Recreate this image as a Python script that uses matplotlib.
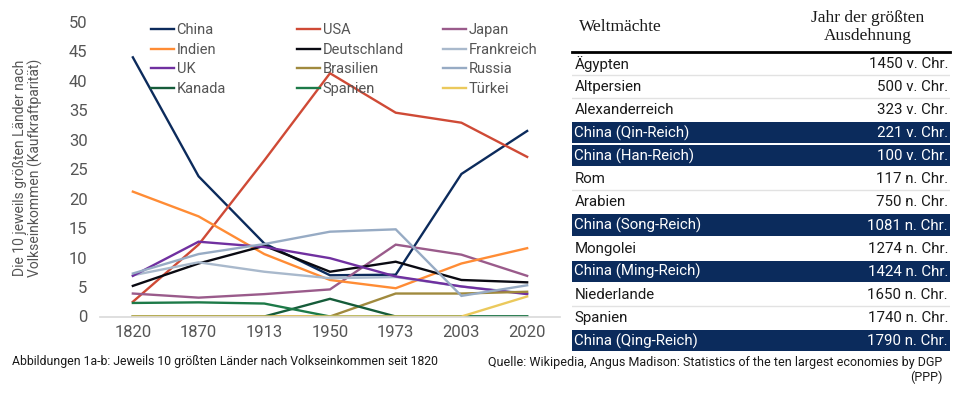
import numpy as np
import matplotlib
matplotlib.use("Agg")
import matplotlib.pyplot as plt
from matplotlib.patches import Rectangle

plt.rcParams['font.family'] = ['Roboto', 'DejaVu Sans']

# Anteile der 10 größten Volkswirtschaften (Kaufkraftparität), in %
years = ['1820', '1870', '1913', '1950', '1973', '2003', '2020']
china = [44.0, 23.8, 12.4, 7.0, 7.1, 24.2, 31.5]
usa = [2.5, 12.2, 26.5, 41.3, 34.6, 32.9, 27.1]
japan = [3.9, 3.2, 3.8, 4.6, 12.2, 10.5, 6.9]
indien = [21.2, 17.0, 10.6, 6.2, 4.8, 9.0, 11.6]
deutschland = [5.2, 9.0, 12.0, 7.6, 9.3, 6.2, 5.8]
frankreich = [7.0, 9.2, 7.6, 6.5, 6.7, 5.1, 3.9]
uk = [6.9, 12.7, 11.8, 9.9, 6.8, 5.1, 3.8]
brasilien = [0, 0, 0, 0, 3.9, 3.9, 4.2]
russia = [7.3, 10.6, 12.3, 14.4, 14.8, 3.5, 5.3]
kanada = [0, 0, 0, 3.0, 0, 0, 0]
spanien = [2.3, 2.4, 2.2, 0, 0, 0, 0]
tuerkei = [0, 0, 0, 0, 0, 0, 3.4]

# Tabelle Weltmächte
maechte = ['Ägypten', 'Altpersien', 'Alexanderreich', 'China (Qin-Reich)',
           'China (Han-Reich)', 'Rom', 'Arabien', 'China (Song-Reich)',
           'Mongolei', 'China (Ming-Reich)', 'Niederlande', 'Spanien',
           'China (Qing-Reich)']
jahre = ['1450 v. Chr.', '500 v. Chr.', '323 v. Chr.', '221 v. Chr.',
         '100 v. Chr.', '117 n. Chr.', '750 n. Chr.', '1081 n. Chr.',
         '1274 n. Chr.', '1424 n. Chr.', '1650 n. Chr.', '1740 n. Chr.',
         '1790 n. Chr.']

serien = [
    ('China', china, '#0c2b5c'),
    ('USA', usa, '#cf4a36'),
    ('Japan', japan, '#9a5b8b'),
    ('Indien', indien, '#ff8c35'),
    ('Deutschland', deutschland, '#0a0a12'),
    ('Frankreich', frankreich, '#a9b9cc'),
    ('UK', uk, '#7030a0'),
    ('Brasilien', brasilien, '#a08a3e'),
    ('Russia', russia, '#97abc4'),
    ('Kanada', kanada, '#165c3a'),
    ('Spanien', spanien, '#1d7a48'),
    ('Türkei', tuerkei, '#ebc95c'),
]

navy = '#0b2b5c'
grau = '#555555'

fig = plt.figure(figsize=(9.63, 3.95), dpi=100)
ax = fig.add_axes([100 / 963, 1 - 316.5 / 395, 460 / 963, 294.5 / 395])

x = np.arange(len(years))
handles = {}
for name, werte, farbe in serien:
    h, = ax.plot(x, werte, color=farbe, lw=1.7, label=name, solid_joinstyle='miter')
    handles[name] = h

ax.set_xlim(-0.5, 6.5)
ax.set_ylim(0, 50)
ax.set_yticks(range(0, 51, 5))
ax.set_xticks(x)
ax.set_xticklabels(years)
ax.tick_params(length=0, labelsize=12, labelcolor=grau)
ax.tick_params(axis='y', pad=9)
ax.tick_params(axis='x', pad=6)
for s in ['top', 'right', 'left']:
    ax.spines[s].set_visible(False)
ax.spines['bottom'].set_color('#d9d9d9')
ax.spines['bottom'].set_linewidth(1.2)

fig.text(28 / 963, 1 - 168 / 395,
         'Die 10 jeweils größten Länder nach\nVolkseinkommen (Kaufkraftparität)',
         rotation=90, ha='center', va='center', multialignment='center',
         fontsize=10, color=grau, linespacing=1.0)

# Legende in drei Spalten
spalten = [['China', 'Indien', 'UK', 'Kanada'],
           ['USA', 'Deutschland', 'Brasilien', 'Spanien'],
           ['Japan', 'Frankreich', 'Russia', 'Türkei']]
for xs, namen in zip([151, 297, 443], spalten):
    leg = fig.legend([handles[n] for n in namen], namen, loc='upper left',
                     bbox_to_anchor=(xs / 963, 1 - 23 / 395), frameon=False,
                     fontsize=10.5, handlelength=1.6, handletextpad=0.15,
                     labelspacing=0.39, borderpad=0, borderaxespad=0)
    for t in leg.get_texts():
        t.set_color(grau)

# Tabelle
tax = fig.add_axes([572 / 963, 1 - 352 / 395, 378 / 963, 300 / 395])
tax.set_xlim(0, 1)
tax.set_ylim(len(maechte), 0)
tax.axis('off')
for i, (name, jahr) in enumerate(zip(maechte, jahre)):
    hl = name.startswith('China')
    if hl:
        tax.add_patch(Rectangle((0, i + 0.04), 1, 0.92, color=navy, lw=0))
        farbe = 'white'
    else:
        farbe = '#1a1a1a'
    tax.text(0.006, i + 0.52, name, ha='left', va='center', fontsize=10.8, color=farbe)
    tax.text(0.995, i + 0.52, jahr, ha='right', va='center', fontsize=10.8, color=farbe)
    if i > 0 and not hl and not maechte[i - 1].startswith('China'):
        tax.plot([0, 1], [i, i], color='#e2e2e2', lw=1)
tax.plot([0, 1], [0, 0], color='black', lw=2, clip_on=False)

fig.text(579 / 963, 1 - 27 / 395, 'Weltmächte', fontfamily='Liberation Serif',
         fontsize=12.5, ha='left', va='center', color='#1a1a1a')
fig.text(868 / 963, 1 - 27 / 395, 'Jahr der größten\nAusdehnung',
         fontfamily='Liberation Serif', fontsize=12.5, ha='center', va='center',
         multialignment='center', linespacing=1.1, color='#1a1a1a')

# Fußzeilen
fig.text(12 / 963, 1 - 362 / 395,
         'Abbildungen 1a-b: Jeweils 10 größten Länder nach Volkseinkommen seit 1820',
         fontsize=8.8, ha='left', va='center', color='#1a1a1a')
fig.text(942 / 963, 1 - 370 / 395,
         'Quelle: Wikipedia, Angus Madison: Statistics of the ten largest economies by DGP\n(PPP)',
         fontsize=9, ha='right', va='center', multialignment='right',
         linespacing=1.15, color='#1a1a1a')

fig.savefig('out.png', dpi=100)
